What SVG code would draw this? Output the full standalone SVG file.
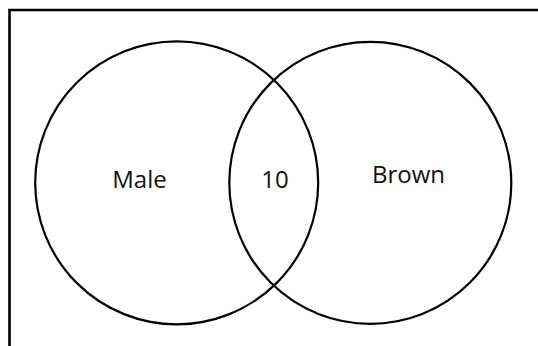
<svg xmlns="http://www.w3.org/2000/svg" width="538" height="346" viewBox="0 0 538 346">
<style>
.c{fill:none;stroke:#000;stroke-width:2.2}
.t{font-family:"Open Sans","Noto Sans",sans-serif;font-size:24px;fill:#111;text-anchor:middle}
</style>
<rect width="538" height="346" fill="#fff"/>
<g id="frame"><path d="M9.5 346V10H538" fill="none" stroke="#000" stroke-width="2.6"/></g>
<g id="male"><circle class="c" cx="176.7" cy="182.8" r="141.5"/><text class="t" x="139.5" y="188">Male</text></g>
<g id="brown"><circle class="c" cx="370.3" cy="182.8" r="141"/><text class="t" x="408.5" y="182.5">Brown</text></g>
<g id="both"><text class="t" x="275" y="187.5">10</text></g>
<g id="connectors"/>
</svg>
